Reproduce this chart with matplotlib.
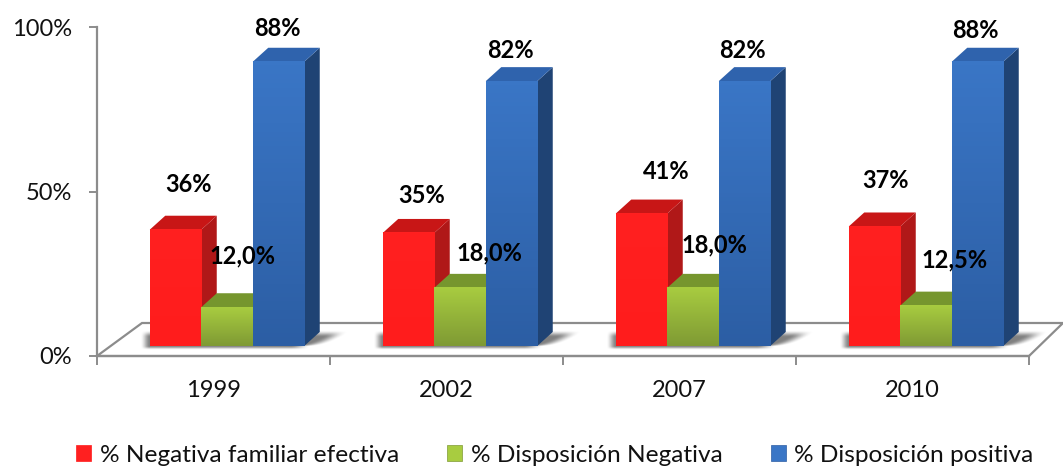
import numpy as np
import matplotlib
matplotlib.use("Agg")
import matplotlib.pyplot as plt
from matplotlib.patches import Polygon, Rectangle
from matplotlib.colors import LinearSegmentedColormap

plt.rcParams['font.family'] = ['Lato', 'DejaVu Sans']

years = ['1999', '2002', '2007', '2010']
series_names = ['% Negativa familiar efectiva', '% Disposición Negativa', '% Disposición positiva']
negativa_familiar = [36, 35, 41, 37]
disposicion_negativa = [12.0, 18.0, 18.0, 12.5]
disposicion_positiva = [88, 82, 82, 88]
labels_negativa_familiar = ['36%', '35%', '41%', '37%']
labels_disposicion_negativa = ['12,0%', '18,0%', '18,0%', '12,5%']
labels_disposicion_positiva = ['88%', '82%', '82%', '88%']
y_ticks = [0, 50, 100]
y_tick_labels = ['0%', '50%', '100%']

# label offsets from the top of each bar, in pixels (right, up)
off_neg = [(13, 45), (13.5, 37), (25, 42), (11.5, 45.5)]
off_dis = [(15, 51), (29, 35), (21.5, 43), (29, 45.6)]
off_pos = [(-1.5, 33), (-1.5, 31), (-2, 31), (-2.5, 31)]

W, H = 1063, 466
fig = plt.figure(figsize=(W / 100, H / 100), dpi=100, facecolor='white')

def axes_px(left, right, top, bottom):
    return fig.add_axes([left / W, 1 - bottom / H, (right - left) / W, (bottom - top) / H])

GREY = '#8c8c8c'
TICK_FS = 17
ax = axes_px(97, 1029, 27, 356)
ax.set_xlim(0, 4)
ax.set_ylim(0, 100)
ax.patch.set_alpha(0)
for s in ['top', 'right']:
    ax.spines[s].set_visible(False)
for s in ['left', 'bottom']:
    ax.spines[s].set_color(GREY)
    ax.spines[s].set_linewidth(1.6)
ax.set_yticks(y_ticks, y_tick_labels, fontsize=TICK_FS, color='#111111')
ax.set_xticks([0, 1, 2, 3, 4], [''] * 5)
ax.set_xticks([0.5, 1.5, 2.5, 3.5], years, minor=True, fontsize=TICK_FS, color='#111111')
ax.tick_params(axis='y', length=6, width=1.4, color=GREY, pad=12)
ax.tick_params(axis='x', which='major', length=6.5, width=1.4, color=GREY)
ax.tick_params(axis='x', which='minor', length=0, pad=17.5)

# floor
pxx = 4 / 932
pxy = 100 / 329
floor = Polygon([(0, 0), (4, 0), (4 + 34 * pxx, 33 * pxy), (45 * pxx, 33 * pxy)],
                closed=True, facecolor='white', edgecolor=GREY, linewidth=1.6,
                clip_on=False, zorder=1)
ax.add_patch(floor)

# bars
bx = axes_px(110.5, 1042.5, 23, 346)
bx.set_xlim(0, 4)
bx.set_ylim(0, 100)
bx.axis('off')
bx.patch.set_alpha(0)

bw = 51.5 / 233
dx = 15.5 / 233
dy = 14 / 3.23

palette = [
    ('#ff2020', '#ff1c1c', '#b01818', '#c81616'),
    ('#a8cc40', '#7f9a34', '#5f7a28', '#76962e'),
    ('#3a76c6', '#2c5ea4', '#1f4374', '#2f63ad'),
]

all_vals = [negativa_familiar, disposicion_negativa, disposicion_positiva]

def smooth(t):
    t = np.clip(t, 0, 1)
    return t * t * (3 - 2 * t)

# soft shadows on the floor
px_u = 1 / 233
px_v = 1 / 3.23
for g in range(len(years)):
    c = g + 0.5
    x0 = c - 1.5 * bw
    x1 = c + 1.5 * bw
    ex = (x0 - 12 * px_u, x1 + dx + 32 * px_u, -4 * px_v, dy + 2 * px_v)
    xs = np.linspace(ex[0], ex[1], 300)
    ys = np.linspace(ex[2], ex[3], 60)
    X, Y = np.meshgrid(xs, ys)
    depth = np.clip(Y / dy, 0, 1)
    left = smooth((X - (x0 - 10 * px_u)) / (10 * px_u))
    right = smooth(((x1 + 6 * px_u + (dx + 24 * px_u) * np.sqrt(depth)) - X) / (20 * px_u))
    low = smooth((Y - ex[2]) / (4 * px_v))
    up = smooth((ex[3] - Y) / (7 * px_v))
    rgba = np.zeros(X.shape + (4,))
    rgba[..., 3] = 0.5 * left * right * low * up
    bx.imshow(rgba, extent=ex, origin='lower', aspect='auto', zorder=1.5, clip_on=False)

def draw_bar(x0, v, cols):
    front_top, front_bot, side, top = cols
    x1 = x0 + bw
    bx.add_patch(Polygon([(x1, 0), (x1 + dx, dy), (x1 + dx, v + dy), (x1, v)],
                         closed=True, facecolor=side, edgecolor='none', clip_on=False, zorder=2))
    bx.add_patch(Polygon([(x0, v), (x1, v), (x1 + dx, v + dy), (x0 + dx, v + dy)],
                         closed=True, facecolor=top, edgecolor='none', clip_on=False, zorder=2))
    cm = LinearSegmentedColormap.from_list('f', [front_top, front_bot])
    bx.imshow(np.linspace(0, 1, 64)[:, None], extent=(x0, x1, 0, v), origin='upper',
              cmap=cm, aspect='auto', zorder=2, clip_on=False)

for g in range(len(years)):
    c = g + 0.5
    for s, vals in enumerate(all_vals):
        draw_bar(c + (s - 1.5) * bw, vals[g], palette[s])
bx.set_xlim(0, 4)
bx.set_ylim(0, 100)

for s, (vals, labs, offs) in enumerate(zip(all_vals,
        [labels_negativa_familiar, labels_disposicion_negativa, labels_disposicion_positiva],
        [off_neg, off_dis, off_pos])):
    for g in range(len(years)):
        xc = g + 0.5 + (s - 1) * bw
        bx.annotate(labs[g], xy=(xc, vals[g]),
                    xytext=(offs[g][0] * 0.72, offs[g][1] * 0.72), textcoords='offset points',
                    ha='center', va='center', fontsize=17, fontweight='bold',
                    color='black', zorder=5, annotation_clip=False)

handles = [Rectangle((0, 0), 1, 1, facecolor=p[0], edgecolor=p[1], linewidth=0.5) for p in palette]
fig.legend(handles, series_names, loc='center', bbox_to_anchor=(555 / W, 1 - 455 / H),
           ncols=3, frameon=False, fontsize=17.6, handlelength=0.61, handleheight=0.61,
           handletextpad=0.35, columnspacing=1.98, labelcolor='#111111')

fig.savefig('out.png', dpi=100)
